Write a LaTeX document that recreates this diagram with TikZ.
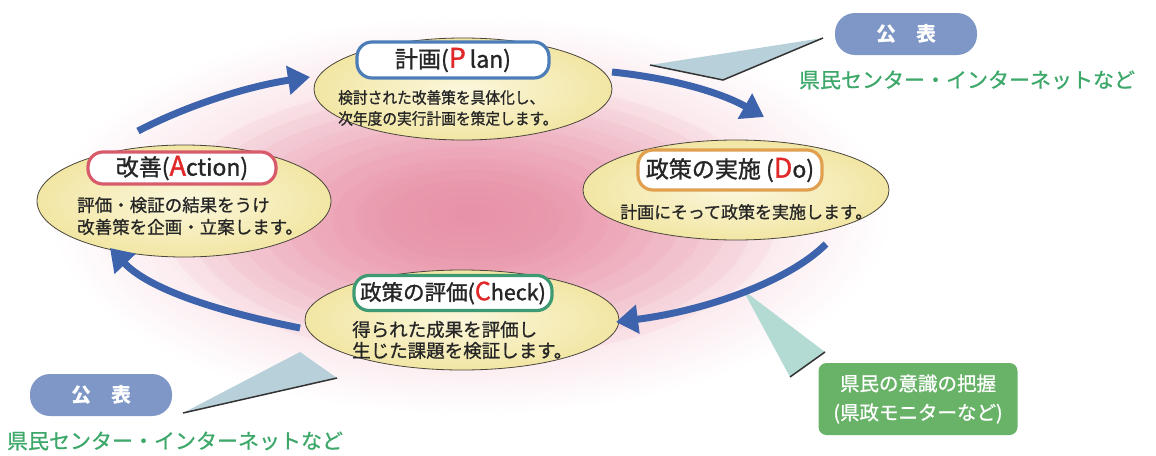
\documentclass[tikz,border=0pt]{standalone}
\usepackage{fontspec}
\newfontfamily\jp{Noto Sans CJK JP}
\newfontfamily\jpm[FakeBold=0.9]{Noto Sans CJK JP}
\newfontfamily\jpt[FakeBold=1.3]{Noto Sans CJK JP}
\usetikzlibrary{arrows.meta,shapes.geometric}
\definecolor{cyc}{HTML}{3D63AD}
\definecolor{ellin}{HTML}{FBF7DC}
\definecolor{ellout}{HTML}{F2E6A4}
\definecolor{pubfill}{HTML}{7F97C6}
\definecolor{gtext}{HTML}{3EA86A}
\definecolor{gbox}{HTML}{68B368}
\definecolor{wedgeA}{HTML}{B7D0DA}
\definecolor{wedgeB}{HTML}{B3DAD3}
\definecolor{pinkc}{HTML}{E57893}
\definecolor{planc}{HTML}{4C7DB8}
\definecolor{actc}{HTML}{D85B6C}
\definecolor{doc}{HTML}{E0A050}
\definecolor{chkc}{HTML}{3E9A72}
\definecolor{letr}{HTML}{E02828}
\tikzset{
  ell/.style={ellipse, draw=black!70!yellow!60!black, line width=0.8pt, inner color=ellin, outer color=ellout},
  ttl/.style={rounded corners=15pt, fill=white, line width=3.2pt, font=\jpt\fontsize{23}{26}\selectfont, inner sep=0pt, text=black!85},
  body/.style={font=\jpm\fontsize{16}{21}\selectfont, align=left, anchor=west, text=black!85, inner sep=0pt},
  cyca/.style={draw=cyc, line width=7pt, -{Triangle[length=22pt,width=28pt]}},
  pub/.style={fill=pubfill, rounded corners=20pt, minimum width=142pt, minimum height=42pt, text=white, font=\jp\bfseries\fontsize{20}{22}\selectfont},
  gt/.style={text=gtext, font=\jpm\fontsize{21}{24}\selectfont, inner sep=0pt},
}
\begin{document}
\begin{tikzpicture}[x=1pt,y=-1pt]
\useasboundingbox (0,0) rectangle (1156,455);
% background glow
\shade[inner color=pinkc!55, outer color=white] (470,215) ellipse [x radius=420pt, y radius=200pt];
\foreach \k in {1,...,10}{
  \fill[pinkc, opacity=0.07] (470,220) ellipse [x radius={330pt-24pt*\k}, y radius={150pt-11pt*\k}];
}
% wedges
\fill[wedgeA] (650,65) -- (723,80) -- (823,38) -- cycle;
\draw[black!80, line width=1.5pt] (650,65) -- (723,80) -- (823,38);
\fill[wedgeA] (183,413) -- (300,352) -- (337,378) -- cycle;
\draw[black!80, line width=1.5pt] (183,413) -- (337,378);
\fill[wedgeB] (743,290) -- (790,377) -- (825,352) -- cycle;
\draw[black!80, line width=1.5pt] (790,377) -- (825,352);
% ellipses
\node[ell, minimum width=298pt, minimum height=102pt] (plan) at (463,89) {};
\node[ell, minimum width=294pt, minimum height=112pt] (act) at (184,201) {};
\node[ell, minimum width=306pt, minimum height=100pt] (do) at (736,190) {};
\node[ell, minimum width=314pt, minimum height=100pt] (chk) at (462,320) {};
% titles
\node[ttl, draw=planc, minimum width=192pt, minimum height=36pt] (plant) at (453,60) {計画({\color{letr}\fontsize{27}{27}\selectfont P}\,lan)};
\node[ttl, draw=actc, minimum width=188pt, minimum height=32pt] (actt) at (182,168) {改善({\color{letr}\fontsize{27}{27}\selectfont A}ction)};
\node[ttl, draw=doc, minimum width=184pt, minimum height=40pt] (dot) at (730,170) {政策の実施 ({\color{letr}\fontsize{27}{27}\selectfont D}o)};
\node[ttl, draw=chkc, minimum width=198pt, minimum height=35pt, font=\jpt\fontsize{21.5}{24}\selectfont] (chkt) at (453,293) {政策の評価({\color{letr}\fontsize{25}{25}\selectfont C}heck)};
% body texts
\node[body] (planb) at (338,108) {\scalebox{0.92}[1]{検討された改善策を具体化し、}\\\scalebox{0.92}[1]{次年度の実行計画を策定します。}};
\node[body, font=\jpm\fontsize{17.5}{22}\selectfont] (actb) at (77,216) {評価・検証の結果をうけ\\改善策を企画・立案します。};
\node[body, font=\jpm\fontsize{17}{21}\selectfont] (dob) at (620,212) {計画にそって政策を実施します。};
\node[body, font=\jpm\fontsize{18.5}{21}\selectfont] (chkb) at (352,340) {得られた成果を評価し\\生じた課題を検証します。};
% cycle arrows
\coordinate (a1s) at (138,131); \coordinate (a1e) at (310,77);
\coordinate (a2s) at (612,72);  \coordinate (a2e) at (764,117);
\coordinate (a3s) at (826,244); \coordinate (a3e) at (616,322);
\coordinate (a4s) at (300,328); \coordinate (a4e) at (110,248);
\draw[cyca] (a1s) .. controls (190,104) and (250,86) .. (a1e);
\draw[cyca] (a2s) .. controls (670,78) and (720,92) .. (a2e);
\draw[cyca] (a3s) .. controls (790,280) and (710,310) .. (a3e);
\draw[cyca] (a4s) .. controls (220,312) and (150,290) .. (a4e);
% publication labels
\node[pub] (pub1) at (906,34) {公　表};
\node[gt] (pub1t) at (967,80) {県民センター・インターネットなど};
\node[pub] (pub2) at (101,395) {公　表};
\node[gt] (pub2t) at (175,441) {県民センター・インターネットなど};
% survey box
\node[fill=gbox, rounded corners=8pt, minimum width=199pt, minimum height=72pt, text=white, font=\jpm\fontsize{19.5}{29}\selectfont, align=center] (survey) at (918,399) {県民の意識の把握\\(県政モニターなど)};
\end{tikzpicture}
\end{document}
